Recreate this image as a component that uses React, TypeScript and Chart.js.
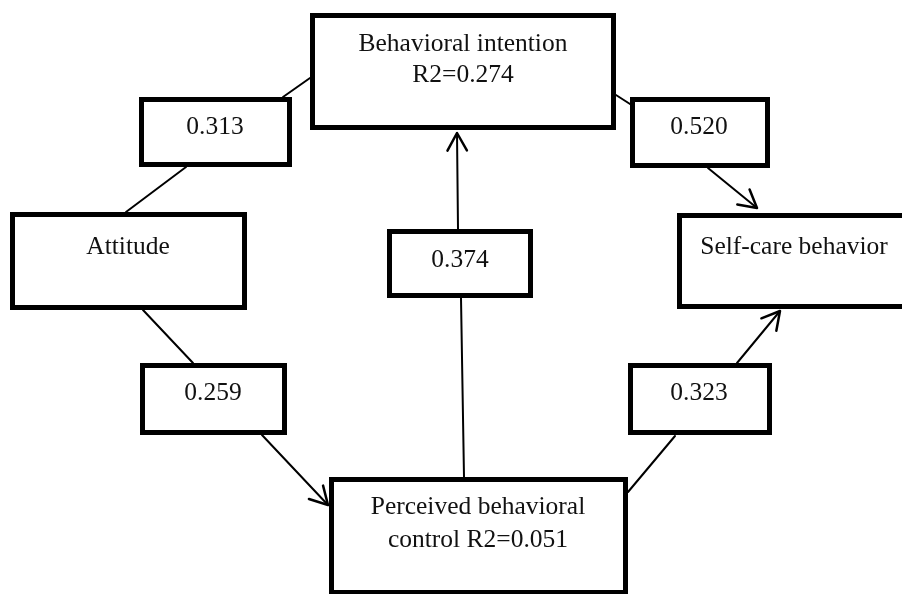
import { useEffect, useRef } from "react";
import { Chart, registerables } from "chart.js";

Chart.register(...registerables);

const FONT_FAMILY = '"Liberation Serif", "Times New Roman", serif';
const FONT_SIZE = 25.5;

// ---- Model content ----
const constructTitles = [
  ["Behavioral intention"],
  ["Attitude"],
  ["Self-care behavior"],
  ["Perceived behavioral", "control"],
];
const constructR2: (number | null)[] = [0.274, null, null, 0.051];
const pathCoefficients = [0.313, 0.52, 0.374, 0.259, 0.323];

// ---- Diagram layout (diagram units: 0..902 x 0..594) ----
const constructX0 = [310, 10, 677, 329];
const constructX1 = [616, 247, 910, 628];
const constructY0 = [13, 212, 213, 477];
const constructY1 = [130, 310, 309, 595];
const constructTextX = [463, 128, 794, 478];
const constructTextY = [51, 254, 254, 514];
const constructLineGap = [31, 32, 32, 33];

const coefX0 = [139, 630, 387, 140, 628];
const coefX1 = [292, 770, 533, 287, 772];
const coefY0 = [97, 97, 229, 363, 363];
const coefY1 = [167, 168, 298, 435, 435];
const coefTextX = [215, 699, 460, 213, 699];
const coefTextY = [134, 134, 267, 400, 400];

const edgeX0 = [186, 283, 616, 708, 143, 262, 464, 458, 628, 737];
const edgeY0 = [167, 97, 95, 168, 310, 435, 477, 229, 492, 363];
const edgeX1 = [126, 310, 630, 757, 193, 328, 461, 457, 675, 780];
const edgeY1 = [212, 78, 104, 208, 363, 505, 298, 133, 436, 311];
const edgeArrow = [false, false, false, true, false, true, false, true, false, true];

function constructLabel(i: number): string[] {
  const lines = constructTitles[i].slice();
  const r2 = constructR2[i];
  if (r2 !== null) {
    const txt = `R2=${r2.toFixed(3)}`;
    if (lines.length > 1) lines[lines.length - 1] = `${lines[lines.length - 1]} ${txt}`;
    else lines.push(txt);
  }
  return lines;
}

const diagramPlugin = {
  id: "pathDiagram",
  afterDatasetsDraw(chart: any) {
    const ctx: CanvasRenderingContext2D = chart.ctx;
    const sx = chart.scales.x;
    const sy = chart.scales.y;
    const px = (v: number) => sx.getPixelForValue(v);
    const py = (v: number) => sy.getPixelForValue(v);
    ctx.save();

    // arrowheads
    ctx.strokeStyle = "#000";
    ctx.lineWidth = 2.5;
    ctx.lineCap = "round";
    ctx.lineJoin = "round";
    for (let i = 0; i < edgeArrow.length; i++) {
      if (!edgeArrow[i]) continue;
      const ax = px(edgeX0[i]);
      const ay = py(edgeY0[i]);
      const bx = px(edgeX1[i]);
      const by = py(edgeY1[i]);
      const ang = Math.atan2(by - ay, bx - ax);
      const len = 20;
      const spread = Math.PI / 6.2;
      ctx.beginPath();
      ctx.moveTo(bx - len * Math.cos(ang - spread), by - len * Math.sin(ang - spread));
      ctx.lineTo(bx, by);
      ctx.lineTo(bx - len * Math.cos(ang + spread), by - len * Math.sin(ang + spread));
      ctx.stroke();
    }

    const drawBox = (x0: number, y0: number, x1: number, y1: number) => {
      const l = px(x0), r = px(x1), t = py(y0), b = py(y1);
      const w = 5;
      ctx.fillStyle = "#fff";
      ctx.fillRect(l, t, r - l, b - t);
      ctx.lineWidth = w;
      ctx.lineJoin = "miter";
      ctx.strokeStyle = "#000";
      ctx.strokeRect(l + w / 2, t + w / 2, r - l - w, b - t - w);
    };

    ctx.font = `${FONT_SIZE}px ${FONT_FAMILY}`;
    ctx.textAlign = "center";
    ctx.textBaseline = "alphabetic";

    for (let i = 0; i < constructTitles.length; i++) {
      drawBox(constructX0[i], constructY0[i], constructX1[i], constructY1[i]);
      const lines = constructLabel(i);
      ctx.fillStyle = "#111";
      lines.forEach((ln, k) => {
        ctx.fillText(ln, px(constructTextX[i]), py(constructTextY[i] + k * constructLineGap[i]));
      });
    }

    for (let i = 0; i < pathCoefficients.length; i++) {
      drawBox(coefX0[i], coefY0[i], coefX1[i], coefY1[i]);
      ctx.fillStyle = "#111";
      ctx.fillText(pathCoefficients[i].toFixed(3), px(coefTextX[i]), py(coefTextY[i]));
    }
    ctx.restore();
  },
};

export default function App() {
  const canvasRef = useRef<HTMLCanvasElement | null>(null);

  useEffect(() => {
    document.body.style.margin = "0";
    const canvas = canvasRef.current;
    if (!canvas) return;
    const datasets = edgeX0.map((_, i) => ({
      label: `path ${i + 1}`,
      data: [
        { x: edgeX0[i], y: edgeY0[i] },
        { x: edgeX1[i], y: edgeY1[i] },
      ],
      showLine: true,
      borderColor: "#000",
      borderWidth: 2,
      pointRadius: 0,
      pointHoverRadius: 0,
      borderCapStyle: "round" as const,
      fill: false,
    }));
    const chart = new Chart(canvas, {
      type: "scatter",
      data: { datasets },
      options: {
        animation: false,
        responsive: true,
        maintainAspectRatio: false,
        layout: { padding: 0 },
        events: [],
        plugins: {
          legend: { display: false },
          tooltip: { enabled: false },
          title: { display: false },
        },
        scales: {
          x: { type: "linear", min: 0, max: 902, display: false },
          y: { type: "linear", min: 0, max: 594, reverse: true, display: false },
        },
      },
      plugins: [diagramPlugin],
    });
    return () => chart.destroy();
  }, []);

  return (
    <div style={{ width: 902, height: 594, position: "relative", background: "#fff" }}>
      <canvas ref={canvasRef} />
    </div>
  );
}
